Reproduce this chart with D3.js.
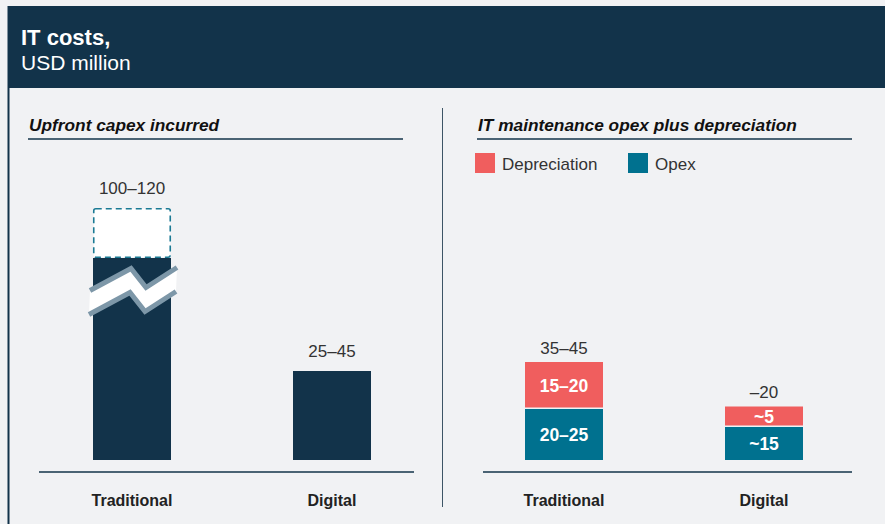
<!DOCTYPE html>
<html lang="en">
<head>
  <meta charset="UTF-8">
  <title>IT costs</title>
  <script src="https://cdn.jsdelivr.net/npm/d3@7"></script>
  <style>
    body { margin: 0; background: #f1f2f4; }
    svg { display: block; font-family: "Liberation Sans", Arial, sans-serif; }
  </style>
</head>
<body>
<svg></svg>
<script>
  const width = 885, height = 524

  // left panel: upfront capex
  const capexCats = ['Traditional', 'Digital']
  const capexLow = [100, 25]
  const capexHigh = [120, 45]
  const capexShown = [100, 35.6]   // bar drawn to this value (traditional bar is broken)
  const capexLabels = ['100–120', '25–45']

  // right panel: opex + depreciation
  const opexCats = ['Traditional', 'Digital']
  const opexVals = [20.4, 13.2]
  const deprVals = [18.8, 8.2]
  const opexLabels = ['20–25', '~15']
  const deprLabels = ['15–20', '~5']
  const totalLabels = ['35–45', '–20']

  const navy = '#12334a', teal = '#00718f', red = '#f05e5e'

  const svg = d3.select('svg')
      .attr('width', width)
      .attr('height', height)

  svg.append('rect').attr('width', width).attr('height', height).attr('fill', '#f1f2f4')

  // frame + header
  svg.append('line').attr('x1', 8.5).attr('x2', 8.5).attr('y1', 6).attr('y2', height)
      .attr('stroke', navy).attr('stroke-width', 2)
  svg.append('rect').attr('x', 8).attr('y', 6).attr('width', width - 8).attr('height', 82).attr('fill', navy)
  svg.append('text').attr('x', 21).attr('y', 45).attr('fill', '#fff')
      .style('font-size', '22px').style('font-weight', 'bold').text('IT costs,')
  svg.append('text').attr('x', 21).attr('y', 70).attr('fill', '#fff')
      .style('font-size', '21px').text('USD million')

  // divider
  svg.append('line').attr('x1', 442.5).attr('x2', 442.5).attr('y1', 108).attr('y2', 507)
      .attr('stroke', '#3d5566').attr('stroke-width', 1)

  function panelTitle(x1, x2, label) {
    svg.append('text').attr('x', x1 + 1).attr('y', 131).attr('fill', '#111')
        .style('font-size', '17.3px').style('font-weight', 'bold').style('font-style', 'italic').text(label)
    svg.append('line').attr('x1', x1).attr('x2', x2).attr('y1', 139).attr('y2', 139)
        .attr('stroke', navy).attr('stroke-width', 1.5)
  }
  panelTitle(28, 403, 'Upfront capex incurred')
  panelTitle(477, 852, 'IT maintenance opex plus depreciation')

  // ---- left panel
  const xL = d3.scaleBand().domain(capexCats).range([40, 424]).paddingInner(0.61).paddingOuter(0.265)
  // broken axis: 60..100 compressed
  const yL = d3.scaleLinear().domain([0, 60, 100, 120]).range([460, 310, 258, 208])

  const gL = svg.append('g')
  gL.selectAll('rect.bar')
      .data(capexCats)
      .join('rect')
      .attr('class', 'bar')
      .attr('x', d => xL(d))
      .attr('width', xL.bandwidth())
      .attr('y', (d, i) => yL(capexShown[i]))
      .attr('height', (d, i) => yL(0) - yL(capexShown[i]))
      .attr('fill', navy)

  // dashed range box for traditional
  gL.append('rect')
      .attr('x', xL('Traditional') + 0.75)
      .attr('y', yL(capexHigh[0]) + 0.75)
      .attr('width', xL.bandwidth() - 1.5)
      .attr('height', yL(capexLow[0]) - yL(capexHigh[0]) - 1.5)
      .attr('rx', 2)
      .attr('fill', '#fff')
      .attr('stroke', '#1b7a94')
      .attr('stroke-width', 1.6)
      .attr('stroke-dasharray', '6,4')

  // break mark
  const bx = xL('Traditional'), bw = xL.bandwidth(), by = yL(75)
  const brkTop = [[bx - 3, by], [bx + 38, by - 22], [bx + 53, by - 3], [bx + bw + 6, by - 23]]
  const brkBot = brkTop.map(p => [p[0] - 1, p[1] + 24])
  gL.append('path')
      .attr('d', d3.line()(brkTop.concat(brkBot.slice().reverse())) + 'Z')
      .attr('fill', '#fff')
  gL.selectAll('path.edge')
      .data([brkTop, brkBot])
      .join('path')
      .attr('class', 'edge')
      .attr('d', d3.line())
      .attr('fill', 'none')
      .attr('stroke', '#7d97a8')
      .attr('stroke-width', 5)

  gL.selectAll('text.val')
      .data(capexCats)
      .join('text')
      .attr('class', 'val')
      .attr('x', d => xL(d) + xL.bandwidth() / 2)
      .attr('y', (d, i) => yL(i === 0 ? capexHigh[i] : capexShown[i]) - 14)
      .attr('text-anchor', 'middle')
      .attr('fill', '#333')
      .style('font-size', '17px')
      .text((d, i) => capexLabels[i])

  // ---- right panel
  const xR = d3.scaleBand().domain(opexCats).range([472, 856]).paddingInner(0.61).paddingOuter(0.265)
  const yR = d3.scaleLinear().domain([0, 40]).range([460, 360])

  const stack = opexCats.map((c, i) => ({
    cat: c,
    parts: [
      {key: 'Opex', y0: 0, y1: opexVals[i], label: opexLabels[i], color: teal},
      {key: 'Depreciation', y0: opexVals[i], y1: opexVals[i] + deprVals[i], label: deprLabels[i], color: red}
    ]
  }))

  const gR = svg.append('g')
  const grp = gR.selectAll('g.bar').data(stack).join('g').attr('class', 'bar')
  grp.selectAll('rect')
      .data(d => d.parts.map(p => ({...p, cat: d.cat})))
      .join('rect')
      .attr('x', d => xR(d.cat))
      .attr('width', xR.bandwidth())
      .attr('y', d => yR(d.y1))
      .attr('height', d => yR(d.y0) - yR(d.y1) - (d.y0 === 0 ? 0 : 1.5))
      .attr('fill', d => d.color)
  grp.selectAll('text.seg')
      .data(d => d.parts.map(p => ({...p, cat: d.cat})))
      .join('text')
      .attr('class', 'seg')
      .attr('x', d => xR(d.cat) + xR.bandwidth() / 2)
      .attr('y', d => (yR(d.y0) + yR(d.y1)) / 2 + 6)
      .attr('text-anchor', 'middle')
      .attr('fill', '#fff')
      .style('font-size', '17.5px')
      .style('font-weight', 'bold')
      .text(d => d.label)
  grp.append('text')
      .attr('x', d => xR(d.cat) + xR.bandwidth() / 2)
      .attr('y', (d, i) => yR(opexVals[i] + deprVals[i]) - 8.5)
      .attr('text-anchor', 'middle')
      .attr('fill', '#333')
      .style('font-size', '17px')
      .text((d, i) => totalLabels[i])

  // legend
  const legend = svg.append('g').selectAll('g')
      .data([{k: 'Depreciation', c: red, x: 475}, {k: 'Opex', c: teal, x: 628}])
      .join('g')
      .attr('transform', d => `translate(${d.x},153)`)
  legend.append('rect').attr('width', 20).attr('height', 20).attr('fill', d => d.c)
  legend.append('text').attr('x', 27).attr('y', 16.5).attr('fill', '#333')
      .style('font-size', '17px').text(d => d.k)

  // baselines + category axes
  function baseAxis(x, x1, x2) {
    svg.append('line').attr('x1', x1).attr('x2', x2).attr('y1', 472).attr('y2', 472)
        .attr('stroke', navy).attr('stroke-width', 1.6)
    const ax = svg.append('g')
        .attr('transform', 'translate(0,495)')
        .call(d3.axisBottom(x).tickSize(0).tickPadding(0))
    ax.select('.domain').remove()
    ax.selectAll('text')
        .attr('fill', '#222')
        .style('font-size', '16px')
        .style('font-weight', 'bold')
        .style('font-family', '"Liberation Sans", Arial, sans-serif')
  }
  baseAxis(xL, 39, 414)
  baseAxis(xR, 483, 852)
</script>
</body>
</html>
